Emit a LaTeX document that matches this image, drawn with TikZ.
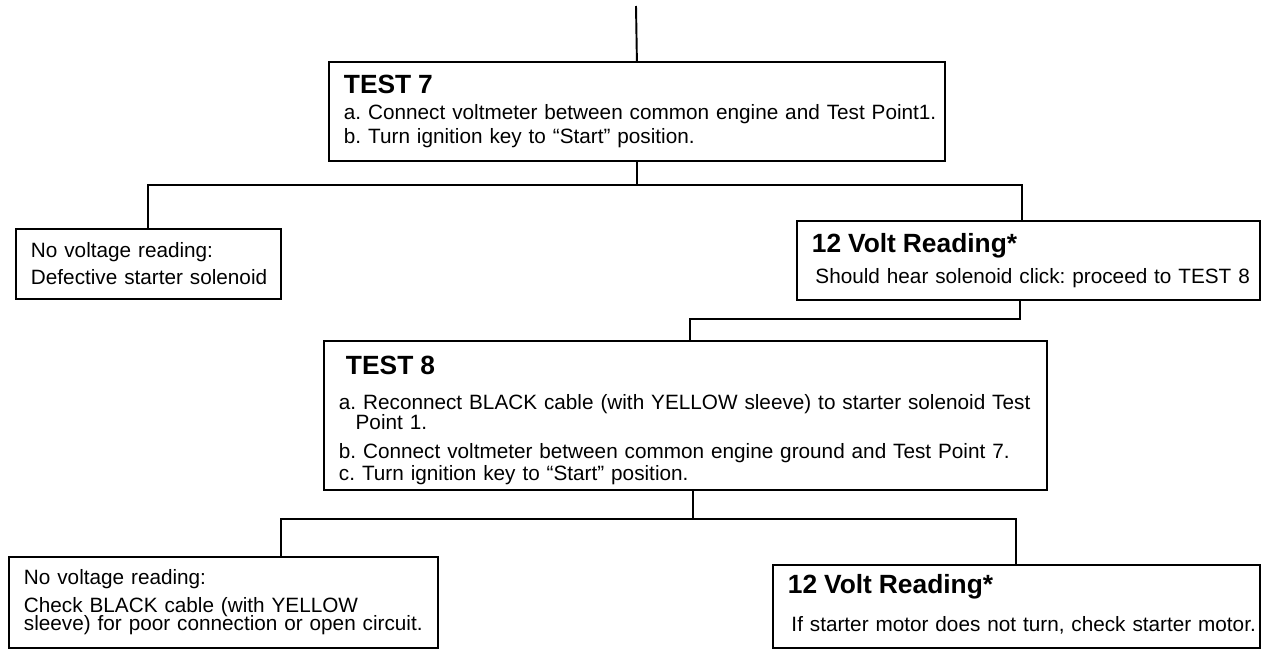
\documentclass[tikz,border=0pt]{standalone}
\usepackage{fontspec}
\setmainfont{Liberation Sans}
\usetikzlibrary{calc}

\newcommand{\boxhead}[1]{{\fontsize{15}{16}\selectfont\bfseries #1}}

\begin{document}
\begin{tikzpicture}[
    x=0.02cm, y=-0.02cm,
    box/.style={rectangle, draw, line width=1.1pt, anchor=north west, align=left, inner xsep=0.3cm, inner ysep=0pt, font=\fontsize{11.8}{13.7}\selectfont\frenchspacing},
    link/.style={line width=1.1pt}
]
\useasboundingbox (0,0) rectangle (1261,649);

\coordinate (top) at (636,6);

\node[box, minimum width=12.32cm, minimum height=1.98cm, text width=11.72cm] (test7) at (328,61)
  {\boxhead{TEST 7}\\[1.1pt]
   \mbox{a. Connect voltmeter between common engine and Test Point1.}\\
   b. Turn ignition key to “Start” position.};

\node[box, minimum width=5.3cm, minimum height=1.4cm, text width=4.7cm] (novolt1) at (15,228)
  {No voltage reading:\\[1.7pt]
   \mbox{Defective starter solenoid}};

\node[box, minimum width=9.26cm, minimum height=1.58cm, text width=8.66cm] (volt1) at (796,220)
  {\boxhead{12 Volt Reading*}\\[4pt]
   \hspace*{2pt}\mbox{Should hear solenoid click: proceed to TEST 8}};

\node[box, minimum width=14.46cm, minimum height=2.98cm, text width=13.86cm] (test8) at (323,340)
  {\hspace*{4pt}\rule{0pt}{16pt}\boxhead{TEST 8}\\[6.5pt]
   \mbox{a. Reconnect BLACK cable (with YELLOW sleeve) to starter solenoid Test}\\[-2.3pt]
   \hspace*{9.5pt}Point 1.\\[2.3pt]
   b. Connect voltmeter between common engine ground and Test Point 7.\\[-1.1pt]
   c. Turn ignition key to “Start” position.};

\node[box, minimum width=8.58cm, minimum height=1.82cm, text width=7.98cm] (novolt2) at (8,556)
  {No voltage reading:\\[2.3pt]
   Check BLACK cable (with YELLOW\\[-3.4pt]
   \mbox{sleeve) for poor connection or open circuit.}};

\node[box, minimum width=9.74cm, minimum height=1.66cm, text width=9.14cm] (volt2) at (772,564)
  {\boxhead{12 Volt Reading*}\\[7.6pt]
   \hspace*{2pt}\mbox{If starter motor does not turn, check starter motor.}\rule[-4pt]{0pt}{4pt}};

% connectors
\draw[link] (top) -- (test7.north);
\draw[link] (test7.south) -- ++(0,23) coordinate (fork1);
\draw[link] (novolt1.north) |- (fork1) -| ([xshift=-0.13cm]volt1.north);
\draw[link] ([xshift=-0.17cm]volt1.south) -- ++(0,18) coordinate (fork2) -| ([xshift=0.1cm]test8.north);
\draw[link] ([xshift=0.15cm]test8.south) -- ++(0,28) coordinate (fork3);
\draw[link] ([xshift=1.15cm]novolt2.north) |- (fork3) -| (volt2.north);

\end{tikzpicture}
\end{document}
